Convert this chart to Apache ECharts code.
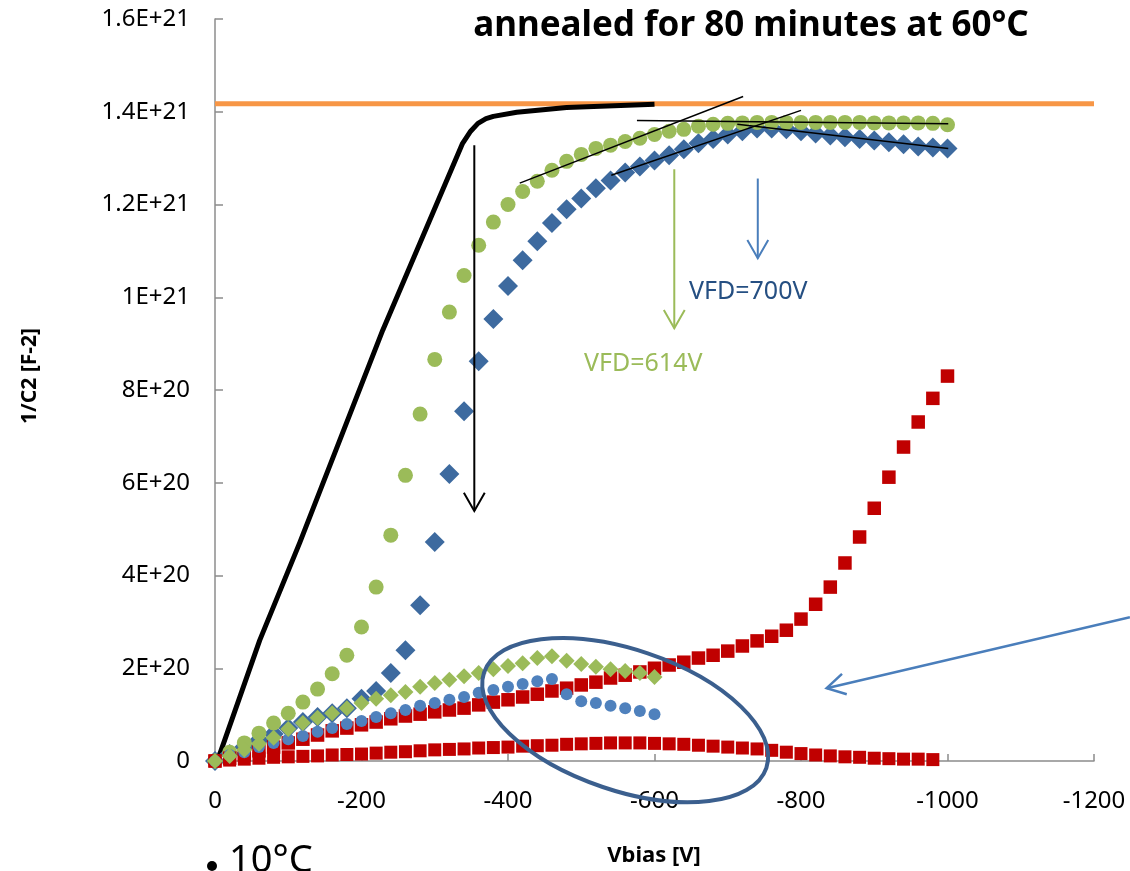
<!DOCTYPE html>
<html>
<head>
<meta charset="utf-8">
<script src="https://cdn.jsdelivr.net/npm/echarts@6/dist/echarts.min.js"></script>
<style>
  html, body { margin: 0; padding: 0; background: #fff; }
  #chart { width: 1130px; height: 871px; }
</style>
</head>
<body>
<div id="chart"></div>
<script>
// Bias voltages (V) for the 20 V measurement steps
var vbias = [0, -20, -40, -60, -80, -100, -120, -140, -160, -180, -200, -220, -240, -260, -280, -300,
  -320, -340, -360, -380, -400, -420, -440, -460, -480, -500, -520, -540, -560, -580, -600, -620,
  -640, -660, -680, -700, -720, -740, -760, -780, -800, -820, -840, -860, -880, -900, -920, -940,
  -960, -980, -1000];

// 1/C^2 values, in units of 1E+20 F-2
var greenCircles = [0, 0.19, 0.39, 0.60, 0.82, 1.03, 1.27, 1.55, 1.88, 2.28, 2.89,
  3.75, 4.87, 6.16, 7.48, 8.66, 9.68, 10.47, 11.12, 11.62, 12.00,
  12.28, 12.50, 12.74, 12.93, 13.08, 13.21, 13.28, 13.36, 13.43, 13.51,
  13.58, 13.62, 13.69, 13.73, 13.75, 13.76, 13.77, 13.77, 13.77, 13.77,
  13.77, 13.77, 13.77, 13.77, 13.76, 13.76, 13.76, 13.76, 13.75, 13.72];
var blueDiamonds = [0, 0.15, 0.30, 0.45, 0.58, 0.71, 0.84, 0.95, 1.03, 1.14, 1.34,
  1.51, 1.90, 2.39, 3.36, 4.72, 6.19, 7.54, 8.62, 9.53, 10.24,
  10.80, 11.21, 11.60, 11.90, 12.13, 12.35, 12.52, 12.69, 12.82, 12.95,
  13.06, 13.19, 13.32, 13.41, 13.51, 13.58, 13.64, 13.64, 13.62, 13.58,
  13.53, 13.49, 13.45, 13.41, 13.38, 13.34, 13.30, 13.25, 13.23, 13.21];
var redUpper = [0, 0.06, 0.13, 0.22, 0.30, 0.39, 0.47, 0.56, 0.65, 0.71, 0.78,
  0.84, 0.91, 0.97, 1.01, 1.06, 1.10, 1.14, 1.21, 1.27, 1.32,
  1.38, 1.44, 1.51, 1.57, 1.64, 1.70, 1.79, 1.85, 1.92, 2.00,
  2.07, 2.13, 2.22, 2.28, 2.37, 2.48, 2.59, 2.69, 2.82, 3.06,
  3.38, 3.75, 4.27, 4.83, 5.45, 6.12, 6.77, 7.31, 7.82, 8.30];
var redLower = [0, 0.02, 0.04, 0.06, 0.08, 0.09, 0.10, 0.11, 0.13, 0.14,
  0.15, 0.17, 0.19, 0.20, 0.22, 0.24, 0.25, 0.26, 0.28, 0.29,
  0.30, 0.32, 0.33, 0.34, 0.36, 0.37, 0.38, 0.39, 0.39, 0.39,
  0.38, 0.37, 0.36, 0.34, 0.32, 0.30, 0.28, 0.26, 0.23, 0.19,
  0.16, 0.13, 0.11, 0.09, 0.08, 0.06, 0.05, 0.04, 0.04, 0.03];
var blueCircles = [0, 0.13, 0.19, 0.30, 0.39, 0.47, 0.54, 0.63, 0.71, 0.80, 0.86,
  0.95, 1.03, 1.10, 1.19, 1.25, 1.32, 1.38, 1.47, 1.53, 1.60,
  1.66, 1.72, 1.77, 1.44, 1.29, 1.25, 1.19, 1.14, 1.08, 1.01];
var greenDiamonds = [0, 0.11, 0.24, 0.37, 0.50, 0.69, 0.82, 0.93, 1.03, 1.14, 1.25,
  1.34, 1.42, 1.49, 1.60, 1.68, 1.75, 1.83, 1.90, 1.98, 2.05,
  2.11, 2.22, 2.26, 2.16, 2.09, 2.03, 1.98, 1.94, 1.90, 1.81];

// Simulated (black) curve and full-depletion plateau (orange)
var curveV = [0, -7, -61, -116, -229, -338, -349, -359, -370, -380, -412, -480, -600];
var curveY = [0, 0.17, 2.6, 4.72, 9.29, 13.32, 13.58, 13.75, 13.85, 13.9, 13.99, 14.09, 14.16];
var plateauV = [0, -1200];
var plateauY = [14.17, 14.17];

// Hand-drawn tangent lines [V, 1/C2]
var tangentGreenRise = [[-416, 12.46], [-721, 14.33]];
var tangentGreenFlat = [[-576, 13.81], [-1001, 13.74]];
var tangentBlueRise = [[-541, 12.63], [-800, 14.03]];
var tangentBlueFall = [[-713, 13.73], [-1001, 13.21]];

// Tick labels
var xTickLabels = ['0', '-200', '-400', '-600', '-800', '-1000', '-1200'];
var yTickLabels = ['0', '2E+20', '4E+20', '6E+20', '8E+20', '1E+21', '1.2E+21', '1.4E+21', '1.6E+21'];

// Annotation anchors in data space
var arrowBlack = [[-354, 13.28], [-354, 5.39]];
var arrowGreen = [[-627, 12.76], [-627, 9.33]];
var arrowBlue = [[-741, 12.56], [-741, 10.84]];
var arrowLong = [[-1249, 3.10], [-835, 1.57]];
var ellipseCenter = [-560, 0.88];

var FONT = '"Noto Sans", "DejaVu Sans", sans-serif';
var AXIS_COLOR = '#8c8c8c';

function pairs(xs, ys) {
  return ys.map(function (y, i) { return [xs[i], y]; });
}

function scatter(name, ys, symbol, size, color, z) {
  return {
    name: name,
    type: 'scatter',
    data: pairs(vbias, ys),
    symbol: symbol,
    symbolSize: size,
    itemStyle: { color: color, opacity: 1 },
    z: z
  };
}

function segment(name, pts) {
  return {
    name: name,
    type: 'line',
    data: pts,
    showSymbol: false,
    symbol: 'none',
    lineStyle: { color: '#000', width: 1.5 },
    z: 20
  };
}

var chart = echarts.init(document.getElementById('chart'), null, { renderer: 'canvas' });

chart.setOption({
  backgroundColor: '#ffffff',
  animation: false,
  grid: { left: 215, right: 36, top: 19, bottom: 110 },
  xAxis: {
    type: 'value',
    min: -1200,
    max: 0,
    interval: 200,
    inverse: true,
    axisLine: { onZero: false, lineStyle: { color: AXIS_COLOR, width: 1.5 } },
    axisTick: { inside: true, length: 7, lineStyle: { color: AXIS_COLOR, width: 1.5 } },
    axisLabel: {
      color: '#000', fontSize: 24, fontFamily: FONT, margin: 28,
      formatter: function (v) { return xTickLabels[Math.round(-v / 200)]; }
    },
    splitLine: { show: false }
  },
  yAxis: {
    type: 'value',
    min: 0,
    max: 16,
    interval: 2,
    axisLine: { show: true, onZero: false, lineStyle: { color: AXIS_COLOR, width: 1.5 } },
    axisTick: { show: true, inside: true, length: 8, lineStyle: { color: AXIS_COLOR, width: 1.5 } },
    axisLabel: {
      color: '#000', fontSize: 24, fontFamily: FONT, margin: 25,
      formatter: function (v) { return yTickLabels[Math.round(v / 2)]; }
    },
    splitLine: { show: false }
  },
  series: [
    {
      name: 'plateau', type: 'line', data: pairs(plateauV, plateauY),
      showSymbol: false, symbol: 'none',
      lineStyle: { color: '#f79646', width: 5 }, z: 2
    },
    {
      name: 'simulation', type: 'line', data: pairs(curveV, curveY),
      showSymbol: false, symbol: 'none',
      lineStyle: { color: '#000', width: 5, join: 'round' }, z: 3
    },
    scatter('blue diamonds', blueDiamonds, 'diamond', 20, '#3d6a9f', 4),
    scatter('green circles', greenCircles, 'circle', 15, '#9bbb59', 5),
    scatter('red lower', redLower, 'rect', 13, '#c00000', 6),
    scatter('red upper', redUpper, 'rect', 13.5, '#c00000', 7),
    scatter('blue circles', blueCircles, 'circle', 12, '#4f81bd', 8),
    scatter('green diamonds', greenDiamonds, 'diamond', 16, '#9bbb59', 9),
    segment('tangent green rise', tangentGreenRise),
    segment('tangent green flat', tangentGreenFlat),
    segment('tangent blue rise', tangentBlueRise),
    segment('tangent blue fall', tangentBlueFall)
  ]
});

// --- Annotations ----------------------------------------------------------------

function px(p) { return chart.convertToPixel({ gridIndex: 0 }, p); }

function arrow(pts, color, width) {
  var a = px(pts[0]), b = px(pts[1]);
  var ang = Math.atan2(b[1] - a[1], b[0] - a[0]);
  var L = 21, h = 0.52;
  var arm1 = [b[0] - L * Math.cos(ang - h), b[1] - L * Math.sin(ang - h)];
  var arm2 = [b[0] - L * Math.cos(ang + h), b[1] - L * Math.sin(ang + h)];
  return [
    { type: 'line', z: 100, shape: { x1: a[0], y1: a[1], x2: b[0], y2: b[1] },
      style: { stroke: color, lineWidth: width } },
    { type: 'polyline', z: 100, shape: { points: [arm1, b, arm2] },
      style: { stroke: color, lineWidth: width, fill: null } }
  ];
}

var ec = px(ellipseCenter);
var graphics = []
  .concat(arrow(arrowBlack, '#000', 2))
  .concat(arrow(arrowGreen, '#9bbb59', 2))
  .concat(arrow(arrowBlue, '#4a7ebb', 2))
  .concat(arrow(arrowLong, '#4a7ebb', 2.5))
  .concat([
    {
      type: 'ellipse', z: 100, x: ec[0], y: ec[1], rotation: -0.325,
      shape: { cx: 0, cy: 0, rx: 149, ry: 70.5 },
      style: { stroke: '#3b5f8e', lineWidth: 4, fill: null }
    },
    {
      type: 'text', z: 100, x: 751, y: 26,
      style: { text: 'annealed for 80 minutes at 60°C', fill: '#000', align: 'center', verticalAlign: 'middle',
        font: 'bold 35px ' + FONT }
    },
    {
      type: 'text', z: 100, x: 689, y: 292,
      style: { text: 'VFD=700V', fill: '#254f82', align: 'left', verticalAlign: 'middle', font: '25px ' + FONT }
    },
    {
      type: 'text', z: 100, x: 584, y: 364,
      style: { text: 'VFD=614V', fill: '#9bbb59', align: 'left', verticalAlign: 'middle', font: '25px ' + FONT }
    },
    {
      type: 'text', z: 100, x: 30, y: 376, rotation: Math.PI / 2,
      style: { text: '1/C2 [F-2]', fill: '#000', align: 'center', verticalAlign: 'middle', font: 'bold 21px ' + FONT }
    },
    {
      type: 'text', z: 100, x: 654, y: 856,
      style: { text: 'Vbias [V]', fill: '#000', align: 'center', verticalAlign: 'middle', font: 'bold 22px ' + FONT }
    },
    {
      type: 'circle', z: 100, shape: { cx: 212, cy: 866, r: 5 }, style: { fill: '#000' }
    },
    {
      type: 'text', z: 100, x: 229, y: 842,
      style: { text: '10°C', fill: '#000', align: 'left', verticalAlign: 'top', font: '38px ' + FONT }
    }
  ]);

chart.setOption({ graphic: graphics });
</script>
</body>
</html>
